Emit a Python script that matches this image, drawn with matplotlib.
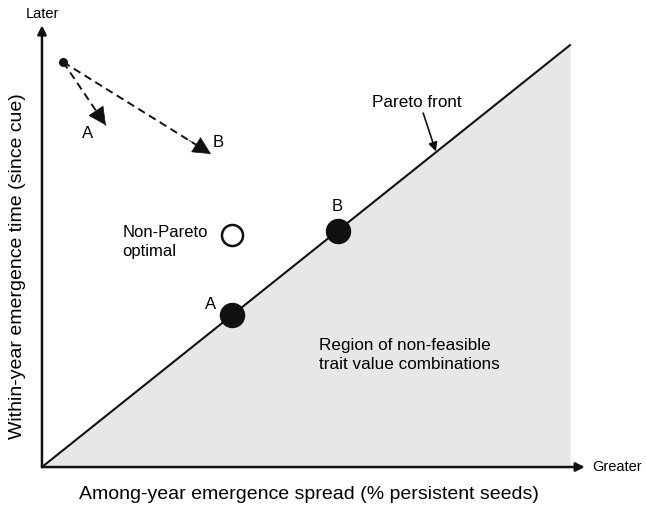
import matplotlib.pyplot as plt

plt.rcParams['font.family'] = ['Liberation Sans', 'DejaVu Sans']

# conceptual units: Pareto front runs from (0, 0) to (10, 10)
front_x = [0, 10]
front_y = [0, 10]
pareto_x = [3.6, 5.6]
pareto_y = [3.6, 5.6]
pareto_labels = ['A', 'B']
nonpareto_x = 3.6
nonpareto_y = 5.5
start_x, start_y = 0.4, 9.6
shift_x = [1.21, 3.2]
shift_y = [8.1, 7.42]
shift_labels = ['A', 'B']
x_end = 10.28
y_end = 10.47

fig = plt.figure(figsize=(6.46, 5.05), dpi=100)
ax = fig.add_axes([0, 0, 1, 1])
ax.set_xlim(-0.795, 11.44)
ax.set_ylim(-0.9, 11.07)
ax.axis('off')

# non-feasible region below the front
ax.fill_between(front_x, front_y, 0, color='#e6e7e8', lw=0, zorder=1)
ax.plot(front_x, front_y, color='#111111', lw=1.5, zorder=2)

# axes with arrow heads
arrow_kw = dict(arrowstyle='-|>', color='#111111', lw=1.8, mutation_scale=13,
                shrinkA=0, shrinkB=0)
ax.annotate('', xy=(x_end, 0), xytext=(0, 0), arrowprops=arrow_kw, zorder=3)
ax.annotate('', xy=(0, y_end), xytext=(0, 0), arrowprops=arrow_kw, zorder=3)
ax.text(x_end + 0.14, 0, 'Greater', fontsize=10.5, ha='left', va='center')
ax.text(0, y_end + 0.26, 'Later', fontsize=10.5, ha='center', va='center')
ax.text(5.06, -0.64, 'Among-year emergence spread (% persistent seeds)',
        fontsize=14, ha='center', va='center')
ax.text(-0.47, 4.76, 'Within-year emergence time (since cue)', fontsize=14,
        rotation=90, ha='center', va='center')

# Pareto optimal points and the non-optimal one
ax.scatter(pareto_x, pareto_y, s=300, color='#111111', zorder=4)
ax.text(pareto_x[0] - 0.4, pareto_y[0] + 0.26, pareto_labels[0], fontsize=12,
        ha='center', va='center')
ax.text(pareto_x[1], pareto_y[1] + 0.57, pareto_labels[1], fontsize=12,
        ha='center', va='center')
ax.scatter([nonpareto_x], [nonpareto_y], s=230, facecolor='white',
           edgecolor='#111111', lw=1.8, zorder=4)
ax.text(1.52, 5.33, 'Non-Pareto\noptimal', fontsize=12, ha='left', va='center',
        linespacing=1.3)

# dashed shifts from the starting point
ax.scatter([start_x], [start_y], s=30, color='#111111', zorder=4)
for x, y in zip(shift_x, shift_y):
    ax.plot([start_x, x], [start_y, y], color='#111111', lw=1.4,
            ls=(0, (4, 2.5)), zorder=3)
    bx = x - 0.15 * (x - start_x)
    by = y - 0.15 * (y - start_y)
    ax.annotate('', xy=(x, y), xytext=(bx, by),
                arrowprops=dict(arrowstyle='-|>', color='#111111', lw=0.5,
                                mutation_scale=30, shrinkA=0, shrinkB=0),
                zorder=3)
ax.text(0.87, 7.91, shift_labels[0], fontsize=12, ha='center', va='center')
ax.text(3.33, 7.7, shift_labels[1], fontsize=12, ha='center', va='center')

# annotations
ax.text(7.1, 8.65, 'Pareto front', fontsize=12.3, ha='center', va='center')
ax.annotate('', xy=(7.46, 7.48), xytext=(7.22, 8.39),
            arrowprops=dict(arrowstyle='-|>', color='#111111', lw=1.2,
                            mutation_scale=13, shrinkA=0, shrinkB=0))
ax.text(5.25, 2.65, 'Region of non-feasible\ntrait value combinations',
        fontsize=12.3, ha='left', va='center', linespacing=1.3)

fig.savefig('out.png', dpi=100)
